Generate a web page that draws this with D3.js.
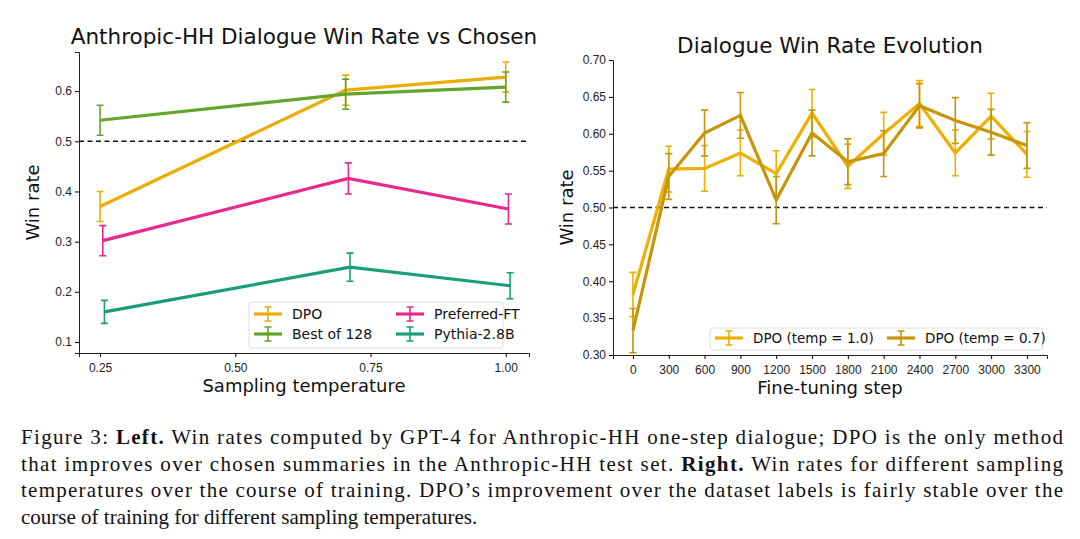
<!DOCTYPE html><html><head><meta charset="utf-8"><script src="https://cdn.jsdelivr.net/npm/d3@7"></script>
<style>body{margin:0;background:#fff}svg{font-family:"DejaVu Sans",sans-serif}.cap{font-family:"Liberation Serif",serif;font-size:21px;fill:#111}</style></head><body><svg id="s" width="1080" height="539"></svg><script>
const temps=[0.25,0.704,1.0];
const leftNames=["DPO","Best of 128","Preferred-FT","Pythia-2.8B"];
const leftColors=["#E9AD05","#62A52B","#E7298A","#1B9E77"];
const leftShift=[0,0,0.005,0.008];
const dpoL=[0.370,0.602,0.628], bestL=[0.542,0.594,0.608], prefL=[0.302,0.426,0.365], pyL=[0.160,0.249,0.212];
const errL=[[0.03,0.03,0.03],[0.03,0.03,0.03],[0.03,0.031,0.03],[0.023,0.028,0.026]];
const leftXTicks=[0.25,0.5,0.75,1.0], leftYTicks=[0.1,0.2,0.3,0.4,0.5,0.6];
const steps=[0,300,600,900,1200,1500,1800,2100,2400,2700,3000,3300];
const t10=[0.382,0.552,0.553,0.574,0.546,0.628,0.556,0.600,0.641,0.574,0.624,0.572];
const t07=[0.333,0.542,0.601,0.625,0.510,0.601,0.562,0.573,0.638,0.618,0.602,0.584];
const e10=[0.03,0.031,0.031,0.031,0.031,0.032,0.03,0.029,0.031,0.031,0.031,0.031];
const e07=[0.03,0.031,0.031,0.031,0.032,0.031,0.031,0.031,0.03,0.031,0.031,0.031];
const rightNames=["DPO (temp = 1.0)","DPO (temp = 0.7)"], rightColors=["#EDB000","#C6950A"];
const rightYTicks=[0.30,0.35,0.40,0.45,0.50,0.55,0.60,0.65,0.70];
const svg=d3.select("#s");
function panel(o){
 const g=svg.append("g");
 const x=d3.scaleLinear().domain(o.xd).range([o.l,o.r]);
 const y=d3.scaleLinear().domain(o.yd).range([o.b,o.t]);
 g.append("g").attr("transform",`translate(0,${o.b})`).call(d3.axisBottom(x).tickValues(o.xt).tickFormat(o.xf).tickSizeOuter(0).tickSize(4)).call(a=>{a.select(".domain").attr("stroke","#222");a.selectAll("text").attr("font-size",12).attr("fill","#222").attr("dy","1.0em")});
 g.append("g").attr("transform",`translate(${o.l},0)`).call(d3.axisLeft(y).tickValues(o.yt).tickFormat(o.yf).tickSizeOuter(0).tickSize(4)).call(a=>{a.select(".domain").attr("stroke","#222");a.selectAll("text").attr("font-size",12).attr("fill","#222")});
 g.append("line").attr("x1",o.l).attr("x2",o.r).attr("y1",y(0.5)).attr("y2",y(0.5)).attr("stroke","#111").attr("stroke-width",1.4).attr("stroke-dasharray","5,3.5");
 o.series.forEach(s=>{
  const pts=s.v.map((v,i)=>[x(s.x[i]),y(v),y(v-s.e[i]),y(v+s.e[i])]);
  g.append("path").attr("d",d3.line()(pts.map(p=>[p[0],p[1]]))).attr("fill","none").attr("stroke",s.c).attr("stroke-width",3.2);
  pts.forEach(p=>{g.append("path").attr("d",`M${p[0]},${p[2]}V${p[3]}M${p[0]-3.5},${p[2]}h7M${p[0]-3.5},${p[3]}h7`).attr("stroke",s.c).attr("stroke-width",1.6).attr("fill","none");});
 });
 g.append("text").attr("x",o.tx).attr("y",o.ty).attr("text-anchor","middle").attr("font-size",21.5).attr("fill","#111").text(o.title);
 g.append("text").attr("x",(o.l+o.r)/2).attr("y",o.b+39).attr("text-anchor","middle").attr("font-size",18).attr("fill","#111").text(o.xl);
 g.append("text").attr("transform",`translate(${o.l-40},${(o.t+o.b)/2}) rotate(-90)`).attr("text-anchor","middle").attr("font-size",18).attr("fill","#111").text("Win rate");
 return g;
}
panel({l:79,r:529,t:52,b:353,xd:[0.211,1.043],yd:[0.078,0.678],xt:leftXTicks,yt:leftYTicks,xf:d3.format(".2f"),yf:d3.format(".1f"),title:"Anthropic-HH Dialogue Win Rate vs Chosen",tx:304,ty:44,xl:"Sampling temperature",
 series:[dpoL,bestL,prefL,pyL].map((v,k)=>({v,e:errL[k],c:leftColors[k],x:temps.map(t=>t+leftShift[k])}))});
panel({l:613,r:1047,t:60,b:355,xd:[-167,3468],yd:[0.30,0.70],xt:steps,yt:rightYTicks,xf:d3.format("d"),yf:d3.format(".2f"),title:"Dialogue Win Rate Evolution",tx:830,ty:53,xl:"Fine-tuning step",
 series:[{v:t10,e:e10,c:rightColors[0],x:steps},{v:t07,e:e07,c:rightColors[1],x:steps}]});
function legend(x0,y0,w,h,items,fs){
 svg.append("rect").attr("x",x0).attr("y",y0).attr("width",w).attr("height",h).attr("rx",3).attr("fill","#fff").attr("stroke","#ddd");
 items.forEach(it=>{const g=svg.append("g").attr("transform",`translate(${it.x},${it.y})`);
  g.append("line").attr("x1",0).attr("x2",28).attr("stroke",it.c).attr("stroke-width",3.2);
  g.append("path").attr("d","M14,-7V7M10.5,-7h7M10.5,7h7").attr("stroke",it.c).attr("stroke-width",1.6);
  g.append("text").attr("x",38).attr("y",5).attr("font-size",fs).attr("fill","#111").text(it.n);});
}
legend(249,302,254,46,[{x:254,y:314,c:leftColors[0],n:leftNames[0]},{x:254,y:334,c:leftColors[1],n:leftNames[1]},{x:396,y:314,c:leftColors[2],n:leftNames[2]},{x:396,y:334,c:leftColors[3],n:leftNames[3]}],14);
legend(710,328,333,22,[{x:715,y:338,c:rightColors[0],n:rightNames[0]},{x:887,y:338,c:rightColors[1],n:rightNames[1]}],13.5);
const lines=[
 [["Figure 3: ",0],["Left.",1],[" Win rates computed by GPT-4 for Anthropic-HH one-step dialogue; DPO is the only method",0]],
 [["that improves over chosen summaries in the Anthropic-HH test set. ",0],["Right.",1],[" Win rates for different sampling",0]],
 [["temperatures over the course of training. DPO’s improvement over the dataset labels is fairly stable over the",0]],
 [["course of training for different sampling temperatures.",0]]];
lines.forEach((ln,i)=>{const t=svg.append("text").attr("class","cap").attr("x",21).attr("y",444+i*26.5);
 if(i<3) t.attr("textLength",1042).attr("lengthAdjust","spacing");
 ln.forEach(([s,b])=>t.append("tspan").attr("font-weight",b?"bold":null).text(s));});
</script></body></html>
